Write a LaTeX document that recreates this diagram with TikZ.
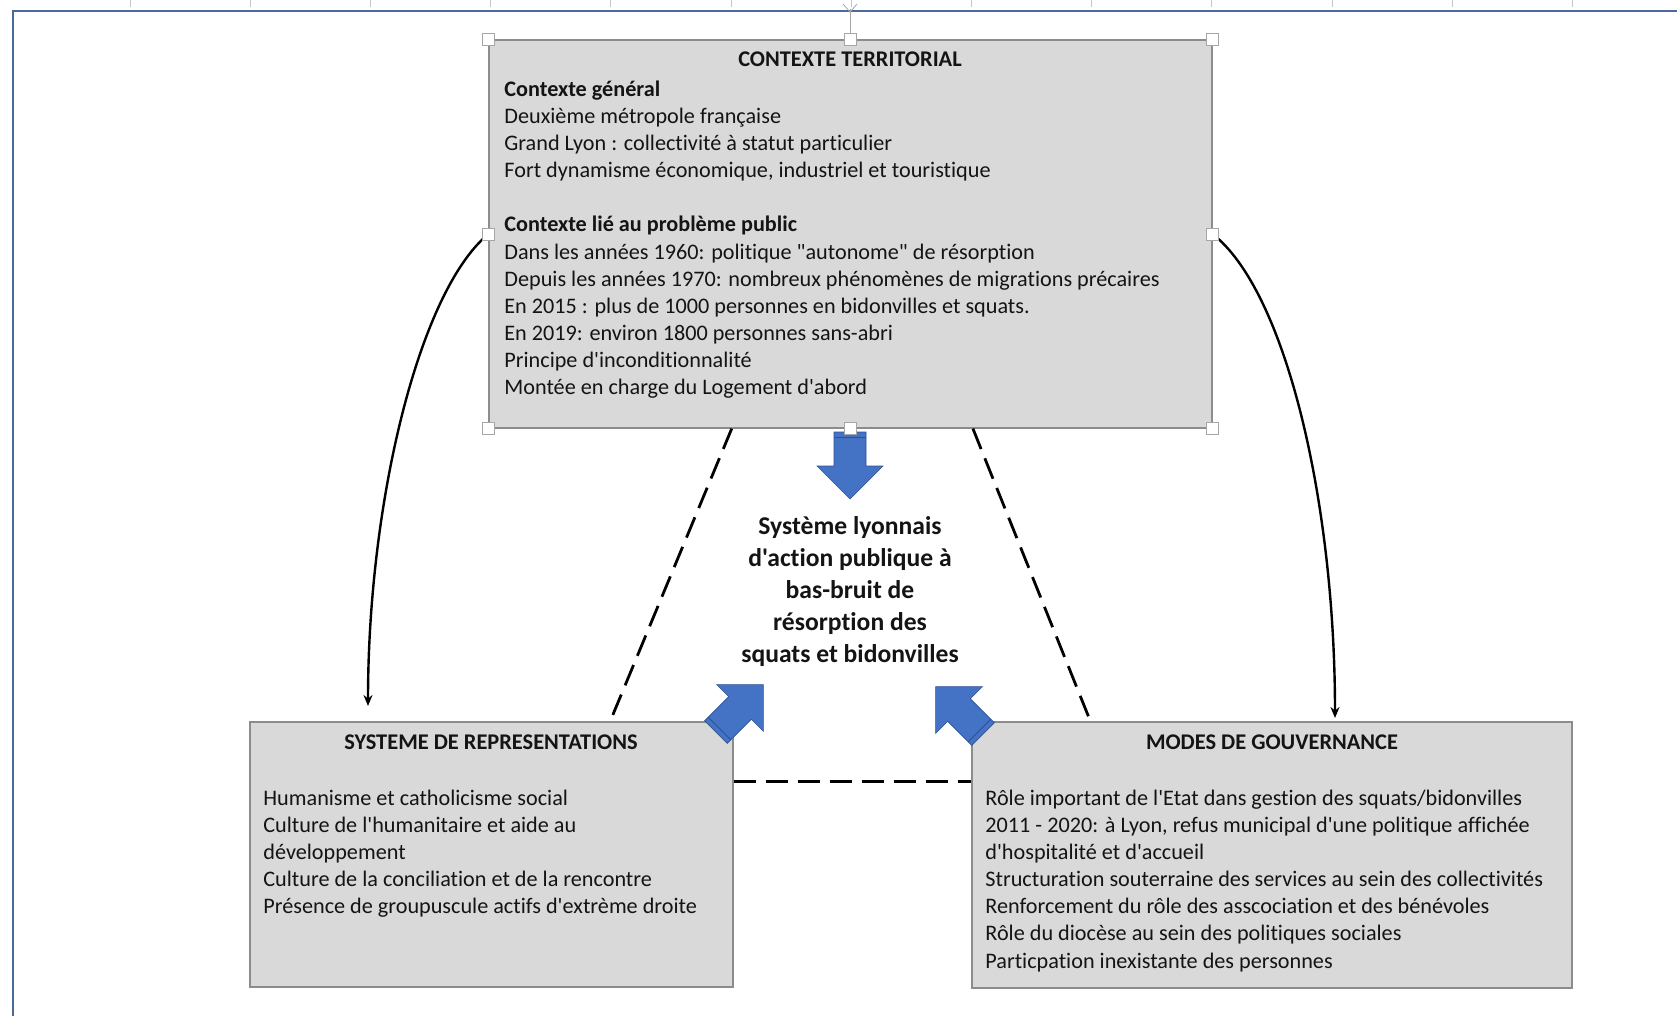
\documentclass[tikz,border=0pt]{standalone}
\usepackage{fontspec}
\setmainfont{Carlito}[Ligatures={TeXOff,NoCommon}]
\usetikzlibrary{arrows.meta,calc}

\definecolor{boxgray}{HTML}{D9D9D9}
\definecolor{boxline}{HTML}{8C8C8C}
\definecolor{offblue}{HTML}{4472C4}
\definecolor{offedge}{HTML}{2F528F}
\definecolor{ink}{HTML}{141414}
\definecolor{pageblue}{HTML}{4A6A9C}

\begin{document}
\begin{tikzpicture}[
                x=.5pt, y=-.5pt,
                box/.style={draw=boxline, line width=.6pt, fill=boxgray, inner sep=0pt},
                boxtitle/.style={font=\bfseries\fontsize{11.2}{13}\selectfont, text=ink, inner sep=0pt, anchor=base},
                boxtext/.style={font=\fontsize{11.1}{13.55}\selectfont, text=ink, align=left, inner sep=0pt, anchor=north west},
                core/.style={font=\bfseries\fontsize{12.8}{16}\selectfont, text=ink, align=center, inner sep=0pt},
                link/.style={line width=1.2pt, -{Stealth[length=5.5pt,width=4.5pt]}},
                tie/.style={line width=1.4pt, dash pattern=on 11pt off 5pt},
                blockarr/.style={fill=offblue, draw=offedge, line width=.3pt},
                handle/.style={draw=gray!70, fill=white, line width=.4pt, minimum size=6pt, inner sep=0pt},
            ]
                \useasboundingbox (0,0) rectangle (1677,1016);

                %% page frame and ruler
                \foreach \t in {0,...,12}
                    \draw[gray!45, line width=.4pt] (130+120.2*\t, 0) -- ++(0,7);
                \draw[pageblue, line width=1.4pt] (13,1016) -- (13,11) -- (1677,11);

                %% the three boxes
                \node[box, minimum width=361.5pt, minimum height=194pt] (ctx) at (850.5,234) {};
                \node[box, minimum width=241.5pt, minimum height=132.5pt] (repr) at (491.5,854.5) {};
                \node[box, minimum width=300pt, minimum height=133pt] (gov) at (1272,855) {};

                \node[boxtitle] (ctxtitle) at (850,67) {CONTEXTE TERRITORIAL};
                \node[boxtext] (ctxtext) at (504,76) {\rule{0pt}{10pt}\textbf{Contexte général}\\
                    Deuxième métropole française\\
                    Grand Lyon : collectivité à statut particulier\\
                    Fort dynamisme économique, industriel et touristique\\[13.55pt]
                    \textbf{Contexte lié au problème public}\\
                    Dans les années 1960: politique "autonome" de résorption\\
                    Depuis les années 1970: nombreux phénomènes de migrations précaires\\
                    En 2015 : plus de 1000 personnes en bidonvilles et squats.\\
                    En 2019: environ 1800 personnes sans-abri\\
                    Principe d'inconditionnalité\\
                    Montée en charge du Logement d'abord};

                \node[boxtitle] (reprtitle) at (491,749) {SYSTEME DE REPRESENTATIONS};
                \node[boxtext] (reprtext) at (263,785) {\rule{0pt}{10pt}Humanisme et catholicisme social\\
                    Culture de l'humanitaire et aide au\\
                    développement\\
                    Culture de la conciliation et de la rencontre\\
                    Présence de groupuscule actifs d'extrème droite};

                \node[boxtitle] (govtitle) at (1272,749) {MODES DE GOUVERNANCE};
                \node[boxtext] (govtext) at (985,785) {\rule{0pt}{10pt}Rôle important de l'Etat dans gestion des squats/bidonvilles\\
                    2011 - 2020: à Lyon, refus municipal d'une politique affichée\\
                    d'hospitalité et d'accueil\\
                    Structuration souterraine des services au sein des collectivités\\
                    Renforcement du rôle des asscociation et des bénévoles\\
                    Rôle du diocèse au sein des politiques sociales\\
                    Particpation inexistante des personnes};

                %% the system in the middle
                \node[core] (core) at (850,592) {Système lyonnais\\ d'action publique à\\ bas-bruit de\\ résorption des\\ squats et bidonvilles};

                %% dashed triangle between the boxes
                \draw[tie] ($(ctx.south west)!.336!(ctx.south east)$) -- ($(repr.north west)!.745!(repr.north east)$);
                \draw[tie] ($(ctx.south west)!.669!(ctx.south east)$) -- ($(gov.north west)!.198!(gov.north east)$);
                \draw[tie] ($(repr.north east)+(0,60)$) -- ($(gov.north west)+(0,60)$);

                %% block arrows towards the system
                \foreach \x/\y/\a in {740/708/45, 959/710/135, 850/466/-90}{
                    \filldraw[blockarr, shift={(\x,\y)}, rotate=\a]
                        (-34,-16) -- (0,-16) -- (0,-33) -- (33,0) -- (0,33) -- (0,16) -- (-34,16) -- cycle;
                    \draw[offedge, line width=.5pt, shift={(\x,\y)}, rotate=\a] (-29,-16) -- (-29,16);
                }

                %% curved links from the context
                \coordinate (reprin) at (368,706);
                \coordinate (govin) at (1335,718);
                \draw[link] (ctx.west) .. controls +(-69,57) and +(0,-205) .. (reprin);
                \draw[link] (ctx.east) .. controls +(73,57) and +(0,-217) .. (govin);

                %% selection handles
                \draw[gray!70, line width=.4pt] (ctx.north) -- ++(0,-30);
                \draw[gray!70, line width=.4pt] (843,4) -- (850,12) -- (857,4);
                \foreach \a [count=\i] in {north west, north, north east, west, east, south west, south, south east}
                    \node[handle] (hd\i) at (ctx.\a) {};
            \end{tikzpicture}
\end{document}
